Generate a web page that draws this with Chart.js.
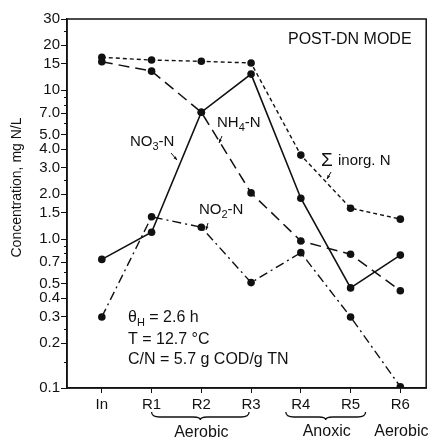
<!DOCTYPE html>
<html lang="en">
<head>
    <meta charset="UTF-8">
    <title>POST-DN MODE</title>
    <script src="https://cdn.jsdelivr.net/npm/chart.js"></script>
    <style>
        body { margin: 0; background: white; }
        #wrap { width: 430px; height: 441px; }
    </style>
</head>
<body>
    <div id="wrap"><canvas id="nChart" width="430" height="441"></canvas></div>

    <script>
        // stations along the plant
        const stations = ["In", "R1", "R2", "R3", "R4", "R5", "R6"];

        // concentrations, mg N/L
        const sumInorgN = [16.6, 15.9, 15.6, 15.2, 3.66, 1.61, 1.36];
        const nh4N      = [15.5, 13.4, 7.1, 2.04, 0.97, 0.79, 0.45];
        const no3N      = [0.73, 1.11, 7.1, 12.8, 1.88, 0.47, 0.78];
        const no2N      = [0.30, 1.41, 1.2, 0.51, 0.81, 0.30, 0.102];

        // y tick labels and the small unlabelled ticks between them
        const yTickVals  = [0.1, 0.2, 0.3, 0.4, 0.5, 0.7, 1.0, 1.5, 2.0, 3.0, 4.0, 5.0, 7.0, 10, 15, 20, 30];
        const yTickText  = ["0.1", "0.2", "0.3", "0.4", "0.5", "0.7", "1.0", "1.5", "2.0", "3.0", "4.0", "5.0", "7.0", "10", "15", "20", "30"];
        const yMinorVals = [0.15, 0.25, 0.6, 0.8, 0.9, 2.5, 6, 8, 9, 25];

        const FONT = "'Liberation Sans', Arial, sans-serif";

        function toPts(arr) {
            return arr.map((v, i) => ({ x: i, y: v }));
        }

        function series(label, data, dash, width) {
            return {
                label: label,
                data: toPts(data),
                borderColor: "#111",
                backgroundColor: "#111",
                borderWidth: width,
                borderDash: dash,
                pointRadius: 3.8,
                pointHoverRadius: 3.8,
                pointBorderWidth: 0,
                tension: 0,
                fill: false
            };
        }

        // draw text with subscript parts: [[text, isSub], ...]
        function subText(ctx, parts, x, y, size) {
            let cx = x;
            parts.forEach(p => {
                const s = p[1] ? Math.round(size * 0.7) : size;
                ctx.font = s + "px " + FONT;
                ctx.fillText(p[0], cx, p[1] ? y + size * 0.32 : y);
                cx += ctx.measureText(p[0]).width;
            });
        }

        function pointer(ctx, x1, y1, x2, y2) {
            ctx.beginPath();
            ctx.moveTo(x1, y1);
            ctx.lineTo(x2, y2);
            ctx.lineWidth = 1;
            ctx.stroke();
            const a = Math.atan2(y2 - y1, x2 - x1);
            ctx.beginPath();
            ctx.moveTo(x2, y2);
            ctx.lineTo(x2 - 4 * Math.cos(a - 0.4), y2 - 4 * Math.sin(a - 0.4));
            ctx.lineTo(x2 - 4 * Math.cos(a + 0.4), y2 - 4 * Math.sin(a + 0.4));
            ctx.closePath();
            ctx.fill();
        }

        function brace(ctx, x1, x2, y) {
            const m = (x1 + x2) / 2;
            ctx.beginPath();
            ctx.moveTo(x1, y - 4);
            ctx.quadraticCurveTo(x1, y + 1, x1 + 8, y + 1);
            ctx.lineTo(m - 7, y + 1);
            ctx.quadraticCurveTo(m, y + 1, m, y + 4);
            ctx.quadraticCurveTo(m, y + 1, m + 7, y + 1);
            ctx.lineTo(x2 - 8, y + 1);
            ctx.quadraticCurveTo(x2, y + 1, x2, y - 4);
            ctx.lineWidth = 1.3;
            ctx.stroke();
        }

        const decor = {
            id: "decor",
            afterDraw(chart) {
                const ctx = chart.ctx;
                const a = chart.chartArea;
                const xs = chart.scales.x;
                const ys = chart.scales.y;
                ctx.save();
                ctx.strokeStyle = "#111";
                ctx.fillStyle = "#111";

                // frame
                ctx.lineWidth = 1.5;
                ctx.strokeRect(a.left, a.top, a.right - a.left, a.bottom - a.top);

                // minor y ticks
                ctx.lineWidth = 1;
                yMinorVals.forEach(v => {
                    const py = Math.round(ys.getPixelForValue(v)) + 0.5;
                    ctx.beginPath();
                    ctx.moveTo(a.left - 3, py);
                    ctx.lineTo(a.left, py);
                    ctx.stroke();
                });

                ctx.textBaseline = "middle";
                ctx.textAlign = "left";

                // y axis title, a bit condensed like the original
                ctx.save();
                ctx.font = "14px " + FONT;
                const title = "Concentration, mg N/L";
                const tw = ctx.measureText(title).width;
                ctx.translate(17, (a.top + a.bottom) / 2 - 16);
                ctx.rotate(-Math.PI / 2);
                ctx.scale(140 / tw, 1);
                ctx.textAlign = "center";
                ctx.fillText(title, 0, 0);
                ctx.restore();

                // title in the corner
                ctx.font = "16px " + FONT;
                ctx.fillText("POST-DN MODE", a.left + 221, a.top + 21);

                // series labels
                subText(ctx, [["NO", 0], ["3", 1], ["-N", 0]], a.left + 63, a.top + 123, 15);
                pointer(ctx, a.left + 104, a.top + 134, a.left + 110, a.top + 141);

                subText(ctx, [["NH", 0], ["4", 1], ["-N", 0]], a.left + 150, a.top + 104, 15);
                pointer(ctx, a.left + 155, a.top + 117, a.left + 152, a.top + 124);

                ctx.font = "19px " + FONT;
                ctx.fillText("\u03A3", a.left + 254, a.top + 142);
                ctx.font = "15px " + FONT;
                ctx.fillText("inorg. N", a.left + 271, a.top + 142);
                pointer(ctx, a.left + 264, a.top + 153, a.left + 260, a.top + 160);

                subText(ctx, [["NO", 0], ["2", 1], ["-N", 0]], a.left + 132, a.top + 191, 15);
                pointer(ctx, a.left + 141, a.top + 204, a.left + 139, a.top + 211);

                // operating conditions
                subText(ctx, [["\u03B8", 0], ["H", 1], [" = 2.6 h", 0]], a.left + 61, a.top + 299, 16);
                ctx.font = "16px " + FONT;
                ctx.fillText("T = 12.7 \u00B0C", a.left + 61, a.top + 321);
                ctx.fillText("C/N = 5.7 g COD/g TN", a.left + 61, a.top + 341);

                // zone braces below the axis
                const p1 = xs.getPixelForValue(1);
                const p3 = xs.getPixelForValue(3);
                const p4 = xs.getPixelForValue(4);
                const p5 = xs.getPixelForValue(5);
                const p6 = xs.getPixelForValue(6);
                brace(ctx, p1, p3 - 2, a.bottom + 28);
                brace(ctx, p4 - 15, p5 + 15, a.bottom + 28);
                ctx.textAlign = "center";
                ctx.font = "16px " + FONT;
                ctx.fillText("Aerobic", (p1 + p3) / 2, a.bottom + 45);
                ctx.fillText("Anoxic", (p4 + p5) / 2 + 1, a.bottom + 44);
                ctx.fillText("Aerobic", p6 + 1, a.bottom + 44);

                ctx.restore();
            }
        };

        const ctx = document.getElementById("nChart").getContext("2d");
        const nChart = new Chart(ctx, {
            type: "line",
            data: {
                datasets: [
                    series("\u03A3 inorg. N", sumInorgN, [4, 3], 1.4),
                    series("NH4-N", nh4N, [11, 6], 1.5),
                    series("NO3-N", no3N, [], 1.6),
                    series("NO2-N", no2N, [9, 4, 2, 4], 1.4)
                ]
            },
            options: {
                responsive: false,
                animation: false,
                layout: { padding: { top: 19, right: 2, left: 0, bottom: 0 } },
                plugins: {
                    legend: { display: false },
                    tooltip: { enabled: false }
                },
                scales: {
                    x: {
                        type: "linear",
                        min: -0.7,
                        max: 6.52,
                        afterBuildTicks: s => { s.ticks = stations.map((_, i) => ({ value: i })); },
                        afterFit: s => { s.height = 53; },
                        grid: { drawOnChartArea: false, tickLength: 5, color: "#111", lineWidth: 1 },
                        border: { color: "#111", width: 1.5 },
                        ticks: {
                            padding: 3,
                            color: "#111",
                            font: { family: FONT, size: 15 },
                            callback: v => stations[v]
                        }
                    },
                    y: {
                        type: "logarithmic",
                        min: 0.1,
                        max: 30,
                        afterBuildTicks: s => { s.ticks = yTickVals.map(v => ({ value: v })); },
                        afterFit: s => { s.width = 67; },
                        grid: { drawOnChartArea: false, tickLength: 6, color: "#111", lineWidth: 1 },
                        border: { color: "#111", width: 1.5 },
                        ticks: {
                            padding: 1,
                            color: "#111",
                            font: { family: FONT, size: 15 },
                            callback: v => {
                                const i = yTickVals.indexOf(v);
                                return i >= 0 ? yTickText[i] : "";
                            }
                        }
                    }
                }
            },
            plugins: [decor]
        });
    </script>
</body>
</html>
